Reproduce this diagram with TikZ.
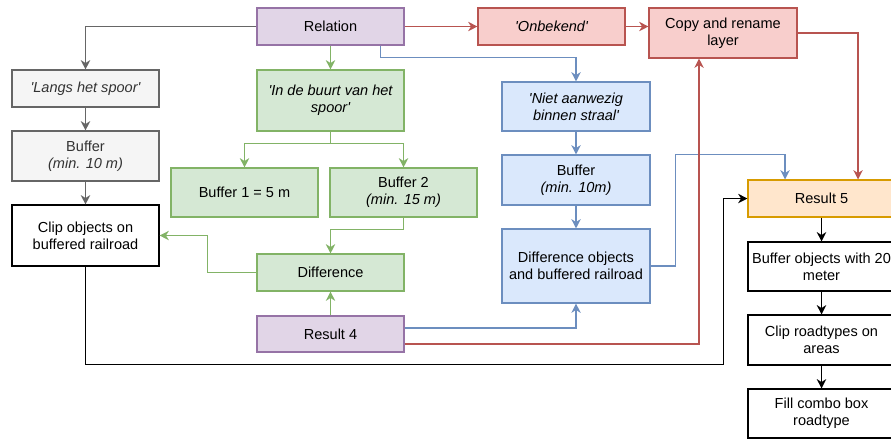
\documentclass[tikz,border=0pt]{standalone}
\usepackage{fontspec}
\setmainfont{Liberation Sans}
\usetikzlibrary{arrows.meta,calc}
\definecolor{purF}{HTML}{E1D5E7}\definecolor{purS}{HTML}{9673A6}
\definecolor{gryF}{HTML}{F5F5F5}\definecolor{gryS}{HTML}{666666}\definecolor{gryT}{HTML}{333333}
\definecolor{grnF}{HTML}{D5E8D4}\definecolor{grnS}{HTML}{82B366}
\definecolor{redF}{HTML}{F8CECC}\definecolor{redS}{HTML}{B85450}
\definecolor{bluF}{HTML}{DAE8FC}\definecolor{bluS}{HTML}{6C8EBF}
\definecolor{orgF}{HTML}{FFE6CC}\definecolor{orgS}{HTML}{D79B00}
\newcommand{\q}{\textquotesingle}
\newcommand{\bx}[7]{\node[#2, minimum width={(#5-#3)*0.75pt}, minimum height={(#6-#4)*0.75pt}] (#1) at ({(#3+#5)/2},{(#4+#6)/2}) {#7};}
\tikzset{
  box/.style={draw, line width=0.8pt, inner sep=0pt, align=center, font=\fontsize{10.9}{12.8}\selectfont},
  purbox/.style={box, fill=purF, draw=purS},
  grybox/.style={box, fill=gryF, draw=gryS, text=gryT},
  grnbox/.style={box, fill=grnF, draw=grnS},
  redbox/.style={box, fill=redF, draw=redS},
  blubox/.style={box, fill=bluF, draw=bluS},
  orgbox/.style={box, fill=orgF, draw=orgS},
  whtbox/.style={box, fill=white, draw=black},
  conn/.style={line width=0.9pt, -{Stealth[length=7pt,width=7pt,inset=2.2pt]}},
  gline/.style={conn, draw=gryS, line width=1.1pt},
  grline/.style={conn, draw=grnS},
  bline/.style={conn, draw=bluS},
  rline/.style={conn, draw=redS},
  kline/.style={conn, draw=black},
  kthick/.style={kline, line width=1.3pt},
}
\begin{document}
\begin{tikzpicture}[x=0.75pt,y=-0.75pt]
\clip (0,0) rectangle (891,440);
\fill[white] (0,0) rectangle (891,440);
\bx{rel}{purbox}{257}{8}{404}{45}{Relation}
\bx{langs}{grybox}{12}{70}{159}{107}{\itshape \q Langs het spoor\q}
\bx{bufa}{grybox}{12}{131}{159}{181}{Buffer\\\itshape (min. 10 m)}
\bx{clip}{whtbox}{12}{205}{159}{266}{Clip objects on\\buffered railroad}
\bx{buurt}{grnbox}{257}{70}{404}{131}{\itshape \q In de buurt van het\\\itshape spoor\q}
\bx{bo1}{grnbox}{171}{168}{318}{217}{Buffer 1 = 5 m}
\bx{bo2}{grnbox}{330}{168}{477}{217}{Buffer 2\\\itshape (min. 15 m)}
\bx{diff}{grnbox}{257}{254}{404}{291}{Difference}
\bx{r4}{purbox}{257}{316}{404}{352}{Result 4}
\bx{onb}{redbox}{478}{8}{625}{45}{\itshape \q Onbekend\q}
\bx{copy}{redbox}{649}{8}{797}{58}{Copy and rename\\layer}
\bx{niet}{blubox}{502}{82}{650}{131}{\itshape \q Niet aanwezig\\\itshape binnen straal\q}
\bx{bufb}{blubox}{502}{155}{650}{205}{Buffer\\\itshape (min. 10m)}
\bx{dobj}{blubox}{502}{229}{650}{303}{Difference objects\\and buffered railroad}
\bx{r5}{orgbox}{748}{180}{895}{217}{Result 5}
\bx{bo}{whtbox}{748}{242}{895}{291}{Buffer objects with 20\\meter}
\bx{cr}{whtbox}{748}{315}{895}{365}{Clip roadtypes on\\areas}
\bx{fc}{whtbox}{748}{389}{895}{438}{Fill combo box\\roadtype}
% gray
\draw[gline] (rel.west) -| (langs.north);
\draw[gline] (langs) -- (bufa);
\draw[gline] (bufa) -- (clip);
% green
\draw[grline] (rel) -- (buurt);
\draw[grline] (buurt.south) -- ++(0,12) -| (bo1.north);
\draw[grline] (buurt.south) -- ++(0,12) -| (bo2.north);
\draw[grline] (bo2.south) -- ++(0,12) -| (diff.north);
\draw[grline] (diff.west) -- ++(-49,0) |- (clip.east);
\draw[grline] (r4) -- (diff);
% blue
\draw[bline] ($(rel.south)+(50,0)$) -- ++(0,12) -| (niet.north);
\draw[bline] (niet) -- (bufb);
\draw[bline] (bufb) -- (dobj);
\draw[bline] (dobj.east) -- ++(25,0) |- ($(r5.north)+(-36.5,-25)$) -- ($(r5.north)+(-36.5,0)$);
\draw[bline] ($(r4.east)+(0,-6)$) -| (dobj.south);
% red
\draw[rline] (rel.east) -- (onb.west);
\draw[rline] (onb.east) -- (onb.east -| copy.west);
\draw[rline] (copy.east) -| ($(r5.north)+(36.5,0)$);
\draw[rline] ($(r4.east)+(0,10)$) -| ($(copy.south)+(-24,0)$);
% black
\draw[kline] (clip.south) -- ++(0,98) -| ($(r5.west)+(-24,0)$) -- (r5.west);
\draw[kthick] (r5) -- (bo);
\draw[kthick] (bo) -- (cr);
\draw[kthick] (cr) -- (fc);
\end{tikzpicture}
\end{document}
